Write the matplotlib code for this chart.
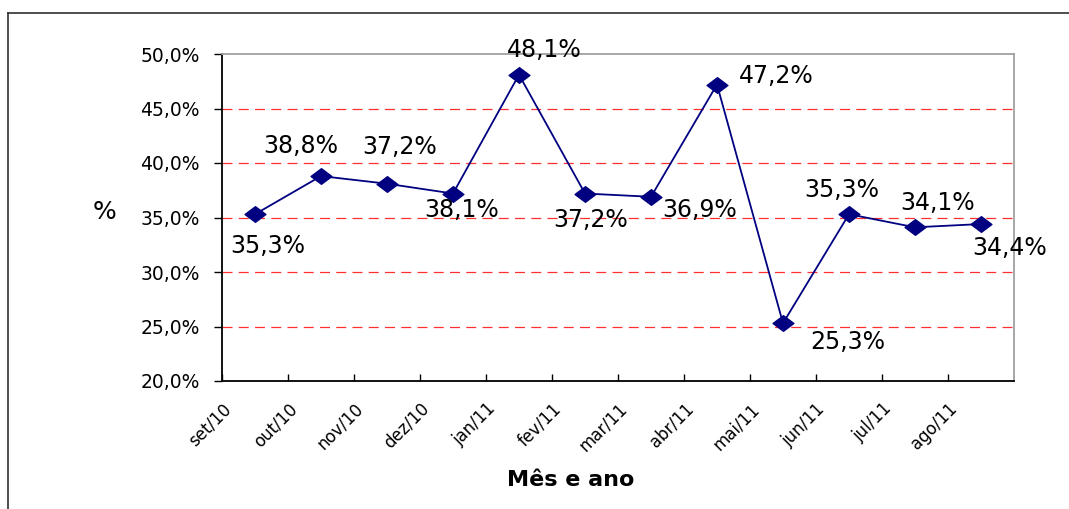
import matplotlib
matplotlib.use("Agg")
import matplotlib.pyplot as plt
from matplotlib.lines import Line2D
from matplotlib.path import Path
from matplotlib.ticker import FuncFormatter

plt.rcParams['font.family'] = ['DejaVu Sans']

months = ["set/10", "out/10", "nov/10", "dez/10", "jan/11", "fev/11",
          "mar/11", "abr/11", "mai/11", "jun/11", "jul/11", "ago/11"]
values = [35.3, 38.8, 38.1, 37.2, 48.1, 37.2, 36.9, 47.2, 25.3, 35.3, 34.1, 34.4]
# labels as printed on the original chart
point_labels = ["35,3%", "38,8%", "37,2%", "38,1%", "48,1%", "37,2%",
                "36,9%", "47,2%", "25,3%", "35,3%", "34,1%", "34,4%"]
# label offsets in pixels (dx, dy), dy up
label_offsets = [(13, -32), (-20, 30), (13, 37), (9, -16), (25, 25), (6, -26),
                 (49, -13), (59, 9), (65, -19), (-7, 24), (23, 24), (29, -24)]

W, H = 1069, 509
fig = plt.figure(figsize=(W / 100, H / 100), dpi=100)
ax = fig.add_axes([222 / W, 1 - 381 / H, (1014 - 222) / W, (381 - 54) / H])

x = [i + 0.5 for i in range(len(values))]

for g in [25, 30, 35, 40, 45]:
    ax.axhline(g, color="#ff3030", lw=0.9, dashes=(8, 5), zorder=1)

diamond = Path([(-1, 0), (0, 0.75), (1, 0), (0, -0.75), (-1, 0)],
               [Path.MOVETO, Path.LINETO, Path.LINETO, Path.LINETO, Path.CLOSEPOLY])
ax.plot(x, values, color="#000080", lw=1.3, marker=diamond, markersize=15,
        markerfacecolor="#000080", markeredgecolor="#000080", zorder=3, clip_on=False)

for xi, v, lab, (dx, dy) in zip(x, values, point_labels, label_offsets):
    ax.annotate(lab, (xi, v), xytext=(dx, dy), textcoords="offset pixels",
                ha="center", va="center", fontsize=17, color="black",
                annotation_clip=False)

ax.set_xlim(0, len(values))
ax.set_ylim(20, 50)
ax.set_yticks([20, 25, 30, 35, 40, 45, 50])
ax.yaxis.set_major_formatter(FuncFormatter(lambda v, p: f"{v:.1f}%".replace(".", ",")))
ax.tick_params(axis="y", direction="out", length=6, width=1, pad=10, labelsize=13.5)

ax.set_xticks(range(len(values)))
ax.tick_params(axis="x", direction="in", length=5, width=1, pad=13.5)
ax.set_xticklabels(months, rotation=45, ha="right", va="top", fontsize=12,
                   rotation_mode="anchor")

ax.spines["left"].set_color("black")
ax.spines["bottom"].set_color("black")
ax.spines["left"].set_linewidth(1.3)
ax.spines["bottom"].set_linewidth(1.3)
ax.spines["top"].set_color("#a0a0a0")
ax.spines["right"].set_color("#a0a0a0")
ax.spines["top"].set_linewidth(1.3)
ax.spines["right"].set_linewidth(1.3)

fig.text(105 / W, 1 - 212 / H, "%", fontsize=18, ha="center", va="center")
fig.text(571 / W, 1 - 480 / H, "Mês e ano", fontsize=16, fontweight="bold",
         ha="center", va="center")

# outer chart frame (only top and left edges visible)
fig.add_artist(Line2D([8 / W, 8 / W], [0, 1 - 13 / H], color="#303030", lw=1.2))
fig.add_artist(Line2D([8 / W, 1], [1 - 13 / H, 1 - 13 / H], color="#303030", lw=1.2))

fig.savefig("out.png", dpi=100)
